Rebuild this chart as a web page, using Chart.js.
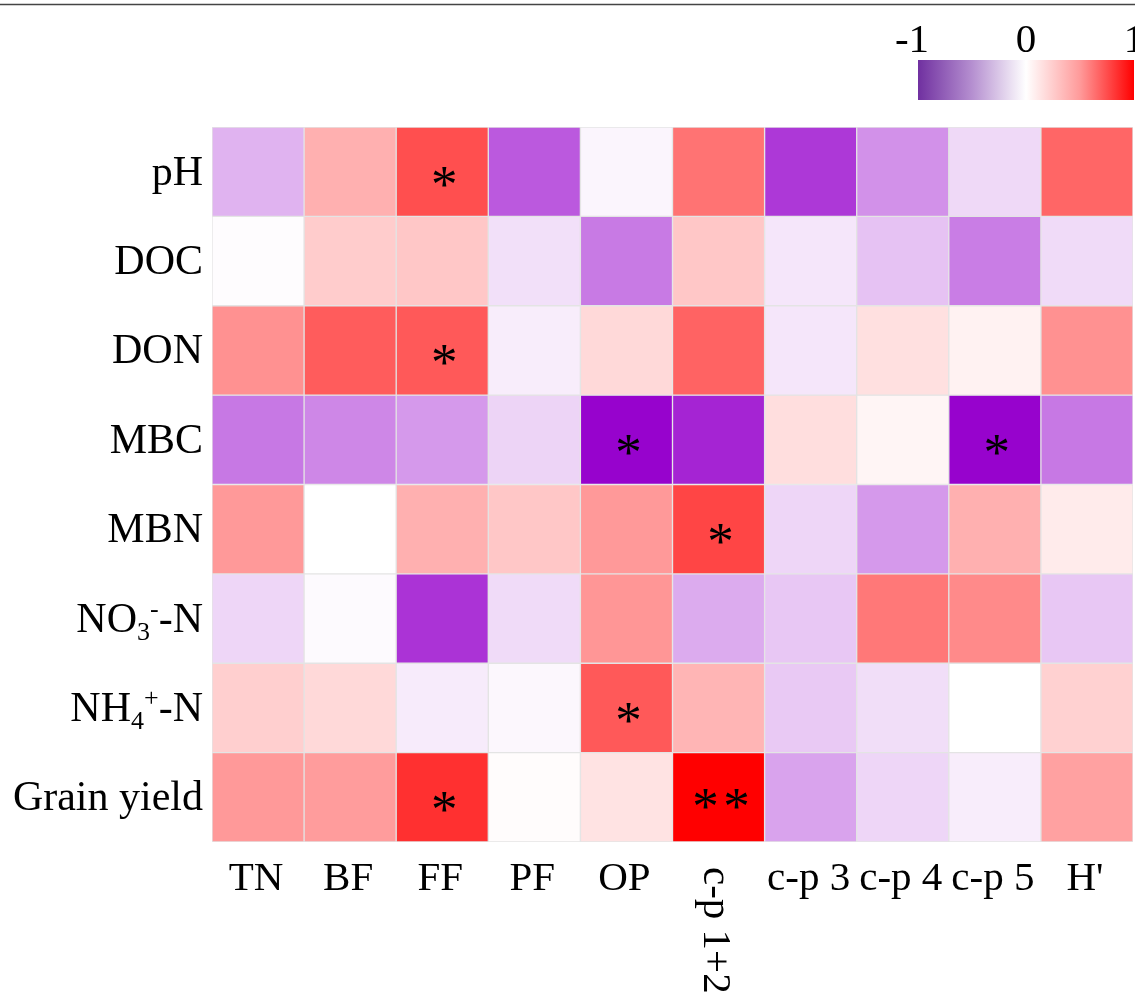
<!DOCTYPE html>
<html>
<head>
<meta charset="utf-8">
<title>Correlation heatmap</title>
<script src="https://cdn.jsdelivr.net/npm/chart.js@4.4.1/dist/chart.umd.min.js"></script>
<style>
  body { margin: 0; background: #fff; }
  #wrap { position: relative; width: 1135px; height: 995px; }
</style>
</head>
<body>
<div id="wrap"><canvas id="heatCanvas"></canvas></div>
<script>
// columns (x) and rows (y) of the heatmap
var colNames = ['TN', 'BF', 'FF', 'PF', 'OP', 'c-p 1+2', 'c-p 3', 'c-p 4', 'c-p 5', "H'"];
// "_x" = subscript char, "^x" = superscript char
var rowNames = ['pH', 'DOC', 'DON', 'MBC', 'MBN', 'NO_3^--N', 'NH_4^+-N', 'Grain yield'];

// correlation coefficients, one array per row
var pH         = [-0.30,  0.31,  0.69, -0.65, -0.04,  0.55, -0.78, -0.43, -0.15,  0.60];
var DOC        = [-0.01,  0.20,  0.22, -0.12, -0.52,  0.22, -0.10, -0.24, -0.51, -0.14];
var DON        = [ 0.43,  0.64,  0.65, -0.07,  0.15,  0.61, -0.10,  0.12,  0.05,  0.43];
var MBC        = [-0.53, -0.47, -0.40, -0.17, -0.99, -0.86,  0.13,  0.04, -0.99, -0.53];
var MBN        = [ 0.40,  0.00,  0.31,  0.22,  0.40,  0.73, -0.16, -0.40,  0.31,  0.08];
var NO3N       = [-0.16, -0.02, -0.80, -0.14,  0.41, -0.33, -0.22,  0.53,  0.46, -0.22];
var NH4N       = [ 0.19,  0.15, -0.08, -0.03,  0.65,  0.29, -0.21, -0.13,  0.00,  0.18];
var grainYield = [ 0.40,  0.39,  0.81,  0.01,  0.11,  1.00, -0.36, -0.16, -0.07,  0.37];
var corr = [pH, DOC, DON, MBC, MBN, NO3N, NH4N, grainYield];

// significance marks
var sigPH    = ['', '', '*', '', '', '', '', '', '', ''];
var sigDOC   = ['', '', '', '', '', '', '', '', '', ''];
var sigDON   = ['', '', '*', '', '', '', '', '', '', ''];
var sigMBC   = ['', '', '', '', '*', '', '', '', '*', ''];
var sigMBN   = ['', '', '', '', '', '*', '', '', '', ''];
var sigNO3   = ['', '', '', '', '', '', '', '', '', ''];
var sigNH4   = ['', '', '', '', '*', '', '', '', '', ''];
var sigGrain = ['', '', '*', '', '', '**', '', '', '', ''];
var sig = [sigPH, sigDOC, sigDON, sigMBC, sigMBN, sigNO3, sigNH4, sigGrain];

var barTicks = [-1, 0, 1];

var FONT = '"Liberation Serif", "Times New Roman", serif';

function cellColour(v) {
  var t = Math.min(1, Math.abs(v));
  var end = v >= 0 ? [255, 0, 0] : [150, 0, 204];
  var c = end.map(function(e){ return Math.round(255 + (e - 255) * t); });
  return 'rgb(' + c[0] + ',' + c[1] + ',' + c[2] + ')';
}

// draw a label with _sub / ^sup chars, right aligned at x
function richText(ctx, str, x, y, size) {
  var parts = [];
  for (var i = 0; i < str.length; i++) {
    var ch = str[i];
    if ((ch === '_' || ch === '^') && i + 1 < str.length) {
      parts.push({t: str[i + 1], k: ch});
      i++;
    } else {
      if (parts.length && parts[parts.length - 1].k === '') parts[parts.length - 1].t += ch;
      else parts.push({t: ch, k: ''});
    }
  }
  var small = Math.round(size * 0.62);
  var total = 0;
  parts.forEach(function(p){
    ctx.font = (p.k ? small : size) + 'px ' + FONT;
    p.w = ctx.measureText(p.t).width;
    total += p.w;
  });
  var cx = x - total;
  ctx.textAlign = 'left';
  ctx.textBaseline = 'alphabetic';
  parts.forEach(function(p){
    ctx.font = (p.k ? small : size) + 'px ' + FONT;
    var dy = p.k === '_' ? 8 : (p.k === '^' ? -15 : 0);
    ctx.fillText(p.t, cx, y + dy);
    cx += p.w;
  });
}

var decorPlugin = {
  id: 'decor',
  afterDraw: function(chart) {
    var ctx = chart.ctx;
    var xs = chart.scales.x, ys = chart.scales.y;
    ctx.save();
    ctx.fillStyle = '#000';

    // row labels
    rowNames.forEach(function(name, r){
      var y = ys.getPixelForValue(r + 0.5);
      richText(ctx, name, chart.chartArea.left - 9, y + 13, 42);
    });

    // column labels
    ctx.font = '41px ' + FONT;
    ctx.textBaseline = 'alphabetic';
    colNames.forEach(function(name, c){
      var x = xs.getPixelForValue(c);
      if (name === 'c-p 1+2') {
        ctx.save();
        ctx.translate(x - 15, chart.chartArea.bottom + 25);
        ctx.rotate(Math.PI / 2);
        ctx.textAlign = 'left';
        ctx.fillText(name, 0, 0);
        ctx.restore();
      } else {
        ctx.textAlign = 'center';
        ctx.fillText(name, x - 2, chart.chartArea.bottom + 48);
      }
    });

    // significance asterisks
    ctx.font = '53px ' + FONT;
    ctx.textAlign = 'center';
    var m = ctx.measureText('*');
    var off = (m.actualBoundingBoxAscent - m.actualBoundingBoxDescent) / 2;
    sig.forEach(function(row, r){
      row.forEach(function(s, c){
        if (!s) return;
        var x = xs.getPixelForValue(c);
        var y = ys.getPixelForValue(r + 0.5) + 5 + off;
        if (s.length === 1) {
          ctx.fillText('*', x + 2, y);
        } else {
          ctx.fillText('*', x - 13, y - 3);
          ctx.fillText('*', x + 18, y - 3);
        }
      });
    });

    // colour bar
    var bx0 = 918, bx1 = 1134, by0 = 60, by1 = 100;
    var g = ctx.createLinearGradient(bx0, 0, bx1, 0);
    g.addColorStop(0, '#7030a0');
    g.addColorStop(0.25, '#b58fd0');
    g.addColorStop(0.5, '#ffffff');
    g.addColorStop(0.75, '#ff9a9a');
    g.addColorStop(1, '#ff0000');
    ctx.fillStyle = g;
    ctx.fillRect(bx0, by0, bx1 - bx0, by1 - by0);
    ctx.fillStyle = '#000';
    ctx.font = '41px ' + FONT;
    ctx.textAlign = 'center';
    barTicks.forEach(function(t){
      var x = bx0 + (t + 1) / 2 * (bx1 - bx0);
      ctx.fillText(String(t), x - (t < 0 ? 6 : 0), 52);
    });

    // frame line at top
    ctx.strokeStyle = '#444';
    ctx.lineWidth = 1.5;
    ctx.beginPath();
    ctx.moveTo(0, 4.5);
    ctx.lineTo(chart.width, 4.5);
    ctx.stroke();
    ctx.restore();
  }
};

var datasets = rowNames.map(function(name, r){
  return {
    label: name,
    data: colNames.map(function(){ return 1; }),
    backgroundColor: corr[r].map(cellColour),
    borderColor: '#e4e4e4',
    borderWidth: 1,
    borderSkipped: false,
    barPercentage: 1,
    categoryPercentage: 1,
    stack: 'grid'
  };
});

var heat = new Chart(document.getElementById('heatCanvas'), {
  type: 'bar',
  data: { labels: colNames, datasets: datasets },
  options: {
    responsive: true,
    maintainAspectRatio: false,
    animation: false,
    layout: { padding: { left: 212, top: 127, right: 2, bottom: 153 } },
    plugins: { legend: { display: false }, tooltip: { enabled: false } },
    scales: {
      x: { display: false, stacked: true },
      y: { display: false, stacked: true, reverse: true, min: 0, max: rowNames.length }
    }
  },
  plugins: [decorPlugin]
});
</script>
</body>
</html>
